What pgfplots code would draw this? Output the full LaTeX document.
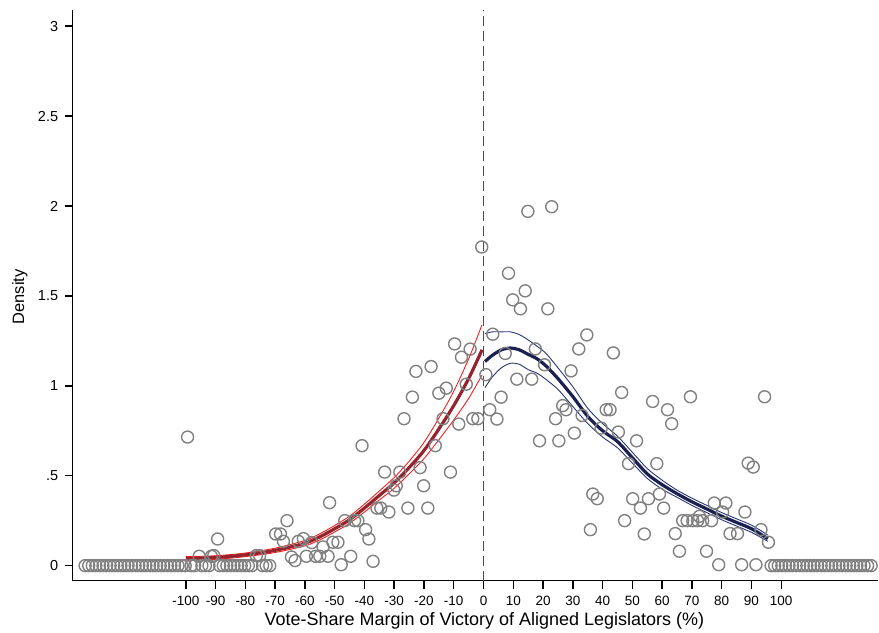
\documentclass[border=0pt]{standalone}
\usepackage{fontspec}
\setmainfont{Liberation Sans}
\usepackage{pgfplots}
\pgfplotsset{compat=1.18}
\definecolor{ptgray}{RGB}{128,128,128}
\definecolor{redc}{RGB}{150,36,46}
\definecolor{redci}{RGB}{250,30,30}
\definecolor{bluec}{RGB}{28,32,80}
\definecolor{blueci}{RGB}{40,52,120}
\begin{document}
\begin{tikzpicture}
\begin{axis}[
  at={(0,0)}, anchor=south west,
  scale only axis, width=806.3pt, height=571pt,
  xmin=-138, xmax=132.6, ymin=-0.083, ymax=3.09,
  axis x line*=bottom, axis y line*=left,
  axis line style={black, line width=1.4pt},
  clip=false,
  tick align=outside, major tick length=8pt,
  major tick style={draw=black, line width=1.5pt},
  xtick={-100,-90,-80,-70,-60,-50,-40,-30,-20,-10,0,10,20,30,40,50,60,70,80,90,100},
  xticklabels={-100,-90,-80,-70,-60,-50,-40,-30,-20,-10,0,10,20,30,40,50,60,70,80,90,100},
  ytick={0,0.5,1,1.5,2,2.5,3},
  yticklabels={0,.5,1,1.5,2,2.5,3},
  tick label style={font=\fontsize{13.5}{14}\selectfont},
  xticklabel style={yshift=-4pt},
  yticklabel style={xshift=-3pt, font=\fontsize{14.5}{15}\selectfont},
  xlabel={Vote-Share Margin of Victory of Aligned Legislators (\%)},
  ylabel={Density},
  xlabel style={font=\fontsize{18}{20}\selectfont, at={(axis description cs:0.511,0)}, anchor=center, yshift=-40pt},
  ylabel style={font=\fontsize{16.5}{18}\selectfont, at={(axis description cs:0,0.497)}, anchor=center, yshift=52.7pt},
]
% zero-density bins
\addplot[only marks, mark=o, mark size=6pt, mark options={ptgray, line width=1.4pt}] coordinates {
(-133.8,0)(-132.6,0)(-131.4,0)(-130.2,0)(-129.0,0)(-127.8,0)(-126.6,0)(-125.4,0)(-124.2,0)(-123.0,0)
(-121.8,0)(-120.6,0)(-119.4,0)(-118.2,0)(-117.0,0)(-115.8,0)(-114.6,0)(-113.4,0)(-112.2,0)(-111.0,0)
(-109.8,0)(-108.6,0)(-107.4,0)(-106.2,0)(-105.0,0)(-103.8,0)(-102.6,0)(-101.4,0)(-100.2,0)
(-98.2,0)(-97.0,0)(-94.6,0)(-93.4,0)(-92.2,0)(-88.6,0)(-87.4,0)(-86.2,0)(-85.0,0)(-83.8,0)
(-82.6,0)(-81.4,0)(-80.2,0)(-79.0,0)(-77.8,0)(-74.2,0)(-73.0,0)(-71.8,0)
(96.6,0)(97.8,0)(99.0,0)(100.2,0)(101.4,0)(102.6,0)(103.8,0)(105.0,0)(106.2,0)(107.4,0)
(108.6,0)(109.8,0)(111.0,0)(112.2,0)(113.4,0)(114.6,0)(115.8,0)(117.0,0)(118.2,0)(119.4,0)
(120.6,0)(121.8,0)(123.0,0)(124.2,0)(125.4,0)(126.6,0)(127.8,0)(129.0,0)(130.2,0)
};
% left bins
\addplot[only marks, mark=o, mark size=6pt, mark options={ptgray, line width=1.4pt}] coordinates {
(-99.4,0.715)(-95.5,0.052)(-91.4,0.052)(-90.6,0.056)(-89.3,0.148)(-76.3,0.056)(-75.2,0.056)
(-69.8,0.176)(-68.2,0.176)(-67.2,0.135)(-66.0,0.25)(-64.5,0.048)(-63.3,0.028)(-62.2,0.135)
(-60.5,0.15)(-59.5,0.052)(-57.7,0.128)(-56.4,0.052)(-55.0,0.052)(-53.9,0.104)(-52.2,0.052)
(-51.7,0.35)(-50.6,0.13)(-48.9,0.13)(-47.8,0.005)(-46.6,0.25)(-44.6,0.052)(-43.3,0.25)
(-42.2,0.25)(-40.8,0.667)(-39.6,0.2)(-38.5,0.148)(-37.1,0.024)(-35.8,0.32)(-34.5,0.32)
(-33.2,0.52)(-31.8,0.298)(-30.1,0.42)(-29.3,0.444)(-28.1,0.52)(-26.7,0.817)(-25.4,0.32)
(-23.9,0.937)(-22.7,1.08)(-21.3,0.545)(-20.1,0.444)(-18.7,0.32)(-17.6,1.107)(-16.2,0.667)
(-15.0,0.959)(-13.6,0.817)(-12.5,0.987)(-11.1,0.52)(-9.7,1.233)(-8.3,0.787)(-7.4,1.159)
(-5.8,1.009)(-4.5,1.204)(-3.6,0.817)(-1.9,0.817)(-0.6,1.772)
};
% right bins
\addplot[only marks, mark=o, mark size=6pt, mark options={ptgray, line width=1.4pt}] coordinates {
(0.8,1.062)(2.1,0.867)(3.1,1.287)(4.5,0.815)(5.9,0.937)(7.3,1.18)(8.4,1.626)(9.8,1.478)
(11.2,1.037)(12.4,1.428)(14.0,1.528)(14.9,1.97)(16.2,1.037)(17.4,1.205)(18.8,0.694)
(20.5,1.117)(21.6,1.428)(22.9,1.996)(24.2,0.817)(25.3,0.694)(26.6,0.89)(27.7,0.867)
(29.4,1.083)(30.5,0.737)(32.0,1.205)(33.1,0.835)(34.7,1.283)(35.9,0.2)(36.7,0.398)
(38.2,0.372)(39.5,0.765)(41.2,0.867)(42.5,0.867)(43.6,1.183)(45.3,0.743)(46.4,0.963)
(47.4,0.25)(48.7,0.567)(50.1,0.372)(51.4,0.694)(52.7,0.32)(54.0,0.176)(55.4,0.372)
(56.8,0.913)(58.2,0.567)(59.1,0.398)(60.5,0.32)(61.8,0.867)(63.2,0.789)(64.4,0.178)
(65.8,0.08)(66.9,0.25)(68.4,0.25)(69.5,0.939)(70.3,0.25)(71.9,0.25)(72.5,0.274)(73.6,0.25)
(74.9,0.08)(76.6,0.25)(77.5,0.348)(79.0,0.005)(80.3,0.298)(81.4,0.348)(82.8,0.178)
(85.3,0.178)(86.7,0.005)(87.8,0.298)(88.9,0.57)(90.6,0.548)(91.5,0.005)(93.2,0.2)
(94.4,0.939)(95.7,0.13)
};
% left fit
\addplot[redci, line width=0.9pt, smooth] coordinates {
(-100,0.05)(-90,0.055)(-80,0.07)(-70,0.097)(-60,0.14)(-55,0.177)(-50,0.223)(-45,0.275)
(-40,0.342)(-35,0.415)(-30,0.49)(-25,0.58)(-20,0.685)(-15,0.82)(-10,0.97)(-5,1.15)(-0.5,1.34)};
\addplot[redci, line width=0.9pt, smooth] coordinates {
(-100,0.03)(-90,0.035)(-80,0.05)(-70,0.073)(-60,0.11)(-55,0.143)(-50,0.187)(-45,0.235)
(-40,0.298)(-35,0.365)(-30,0.43)(-25,0.51)(-20,0.595)(-15,0.70)(-10,0.81)(-5,0.93)(-0.5,1.06)};
\addplot[redc, line width=3.2pt, smooth] coordinates {
(-100,0.04)(-90,0.045)(-80,0.06)(-70,0.085)(-60,0.125)(-55,0.16)(-50,0.205)(-45,0.255)
(-40,0.32)(-35,0.39)(-30,0.46)(-25,0.545)(-20,0.64)(-15,0.76)(-10,0.89)(-5,1.04)(-0.5,1.2)};
% right fit
\addplot[blueci, line width=0.9pt, smooth] coordinates {
(0.5,1.29)(3,1.3)(6,1.3)(9,1.3)(12,1.285)(15,1.255)(18,1.22)(21,1.18)(25,1.1)(30,0.995)
(35,0.875)(40,0.79)(45,0.72)(50,0.63)(55,0.54)(60,0.475)(65,0.42)(70,0.375)(75,0.335)
(80,0.295)(85,0.26)(90,0.225)(95.5,0.17)};
\addplot[blueci, line width=0.9pt, smooth] coordinates {
(0.5,0.99)(3,1.05)(6,1.1)(9,1.125)(12,1.12)(15,1.09)(18,1.07)(21,1.035)(25,0.98)(30,0.885)
(35,0.79)(40,0.715)(45,0.655)(50,0.57)(55,0.485)(60,0.425)(65,0.38)(70,0.335)(75,0.295)
(80,0.255)(85,0.22)(90,0.185)(95.5,0.135)};
\addplot[bluec, line width=3.2pt, smooth] coordinates {
(0.5,1.135)(3,1.17)(6,1.2)(9,1.21)(12,1.2)(15,1.175)(18,1.15)(21,1.11)(25,1.04)(30,0.94)
(35,0.83)(40,0.75)(45,0.69)(50,0.6)(55,0.51)(60,0.45)(65,0.4)(70,0.355)(75,0.315)
(80,0.275)(85,0.24)(90,0.205)(95.5,0.15)};
% cutoff
\addplot[black!70, line width=1.5pt, dash pattern=on 10pt off 5pt] coordinates {(0,-0.083)(0,3.09)};
\end{axis}
\path[use as bounding box] (-72.7pt,-52pt) rectangle (806.3pt,581pt);
\end{tikzpicture}
\end{document}
